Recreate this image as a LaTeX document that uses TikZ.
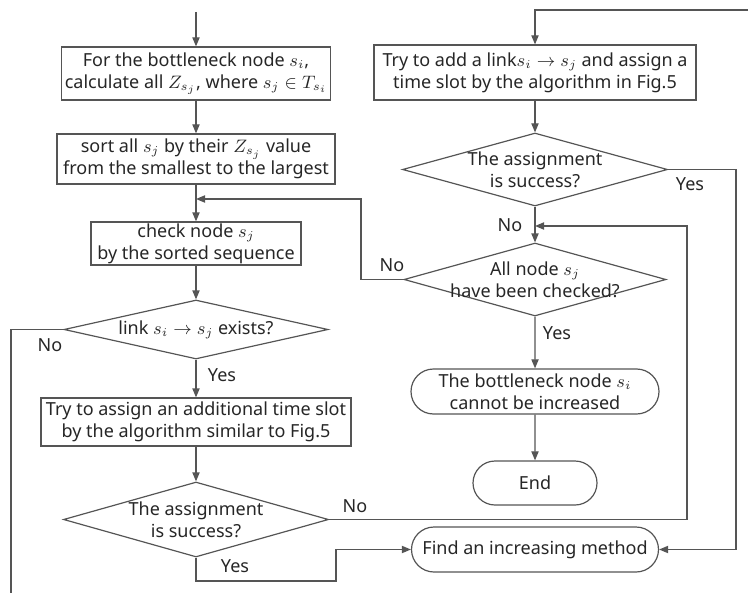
\documentclass[tikz,border=0pt]{standalone}
\usepackage{fontspec}
\setmainfont{Noto Sans}
\usetikzlibrary{shapes.geometric,shapes.misc,arrows.meta}
\definecolor{flowline}{RGB}{85,85,85}

\begin{document}
\begin{tikzpicture}[x=0.5pt,y=-0.5pt,
  font=\fontsize{9}{11}\selectfont, text=black!85,
  >={Triangle[length=4.5pt,width=3.6pt]},
  flow/.style={draw=flowline, line width=0.6pt},
  procbox/.style={draw=flowline, line width=0.6pt, rectangle, align=center, inner sep=0.5pt},
  decision/.style={draw=flowline, line width=0.6pt, diamond, align=center, inner sep=-4pt, shape aspect=3.6},
  terminal/.style={draw=flowline, line width=0.6pt, rounded rectangle, align=center, inner sep=0.5pt}]
\useasboundingbox (0,0) rectangle (748,593);

% Left column
\node[procbox, minimum width=134.5pt, minimum height=26.5pt] (bottle) at (196,73.5) {For the bottleneck node $s_i$,\\ calculate all $Z_{s_j}$, where $s_j \in T_{s_i}$};
\node[procbox, minimum width=139pt, minimum height=25pt] (sortall) at (196,159) {sort all $s_j$ by their $Z_{s_j}$ value\\ from the smallest to the largest};
\node[procbox, minimum width=105pt, minimum height=21.5pt] (checknode) at (196,243.5) {check node $s_j$\\ by the sorted sequence};
\node[decision, minimum width=132pt, minimum height=29.5pt] (linkex) at (196,329.5) {link $s_i \rightarrow s_j$ exists?};
\node[procbox, minimum width=155pt, minimum height=24pt] (tryassign) at (196,422) {Try to assign an additional time slot\\ by the algorithm similar to Fig.5};
\node[decision, minimum width=132.5pt, minimum height=37.5pt] (success) at (196,519.5) {The assignment\\ is success?};

% Right column
\node[procbox, minimum width=161pt, minimum height=27.5pt] (tryadd) at (535,72.5) {Try to add a link$s_i \rightarrow s_j$ and assign a\\ time slot by the algorithm in Fig.5};
\node[decision, minimum width=132.5pt, minimum height=36.5pt] (addok) at (535,169.5) {The assignment\\ is success?};
\node[decision, minimum width=131pt, minimum height=36.5pt] (allchecked) at (535,279.5) {All node $s_j$\\ have been checked?};
\node[terminal, minimum width=125pt, minimum height=22.5pt] (cannot) at (535,391.5) {The bottleneck node $s_i$\\ cannot be increased};
\node[terminal, minimum width=63pt, minimum height=22pt] (finish) at (535,483) {End};
\node[terminal, minimum width=124.5pt, minimum height=22.5pt] (findinc) at (535,549.5) {Find an increasing method};

% Bend points
\coordinate (start) at (196,12);
\coordinate (rejoin) at (196,199);
\coordinate (backup) at (361,199);
\coordinate (leftdown) at (11,593);
\coordinate (topright) at (748,10);
\coordinate (noin) at (535,226);
\coordinate (noloop) at (687,226);
\coordinate (yesright) at (736,300);
\coordinate (yesbend) at (336,581);

% Labels
\node (nolink) at (50,345) {No};
\node (yeslink) at (222,375) {Yes};
\node (nosucc) at (355,506) {No};
\node (yessucc) at (235,566) {Yes};
\node (yesadd) at (690,184) {Yes};
\node (noadd) at (510,225) {No};
\node (noall) at (392,265) {No};
\node (yesall) at (557,333) {Yes};

% Connectors
\draw[flow,->] (start) -- (bottle);
\draw[flow,->] (bottle) -- (sortall);
\draw[flow,->] (sortall) -- (checknode);
\draw[flow,->] (checknode) -- (linkex);
\draw[flow] (linkex.west) -| (leftdown);
\draw[flow,->] (linkex) -- (tryassign);
\draw[flow,->] (tryassign) -- (success);
\draw[flow,->] (success.south) |- (yesbend) |- (findinc.west);
\draw[flow,->] (success.east) -| (noloop) -- (noin);
\draw[flow,->] (topright) -| (tryadd.north);
\draw[flow,->] (tryadd) -- (addok);
\draw[flow,->] (addok.east) -| (yesright) |- (findinc.east);
\draw[flow,->] (addok) -- (allchecked);
\draw[flow,->] (allchecked.west) -| (backup) -- (rejoin);
\draw[flow,->] (allchecked) -- (cannot);
\draw[flow,->] (cannot) -- (finish);
\end{tikzpicture}
\end{document}
